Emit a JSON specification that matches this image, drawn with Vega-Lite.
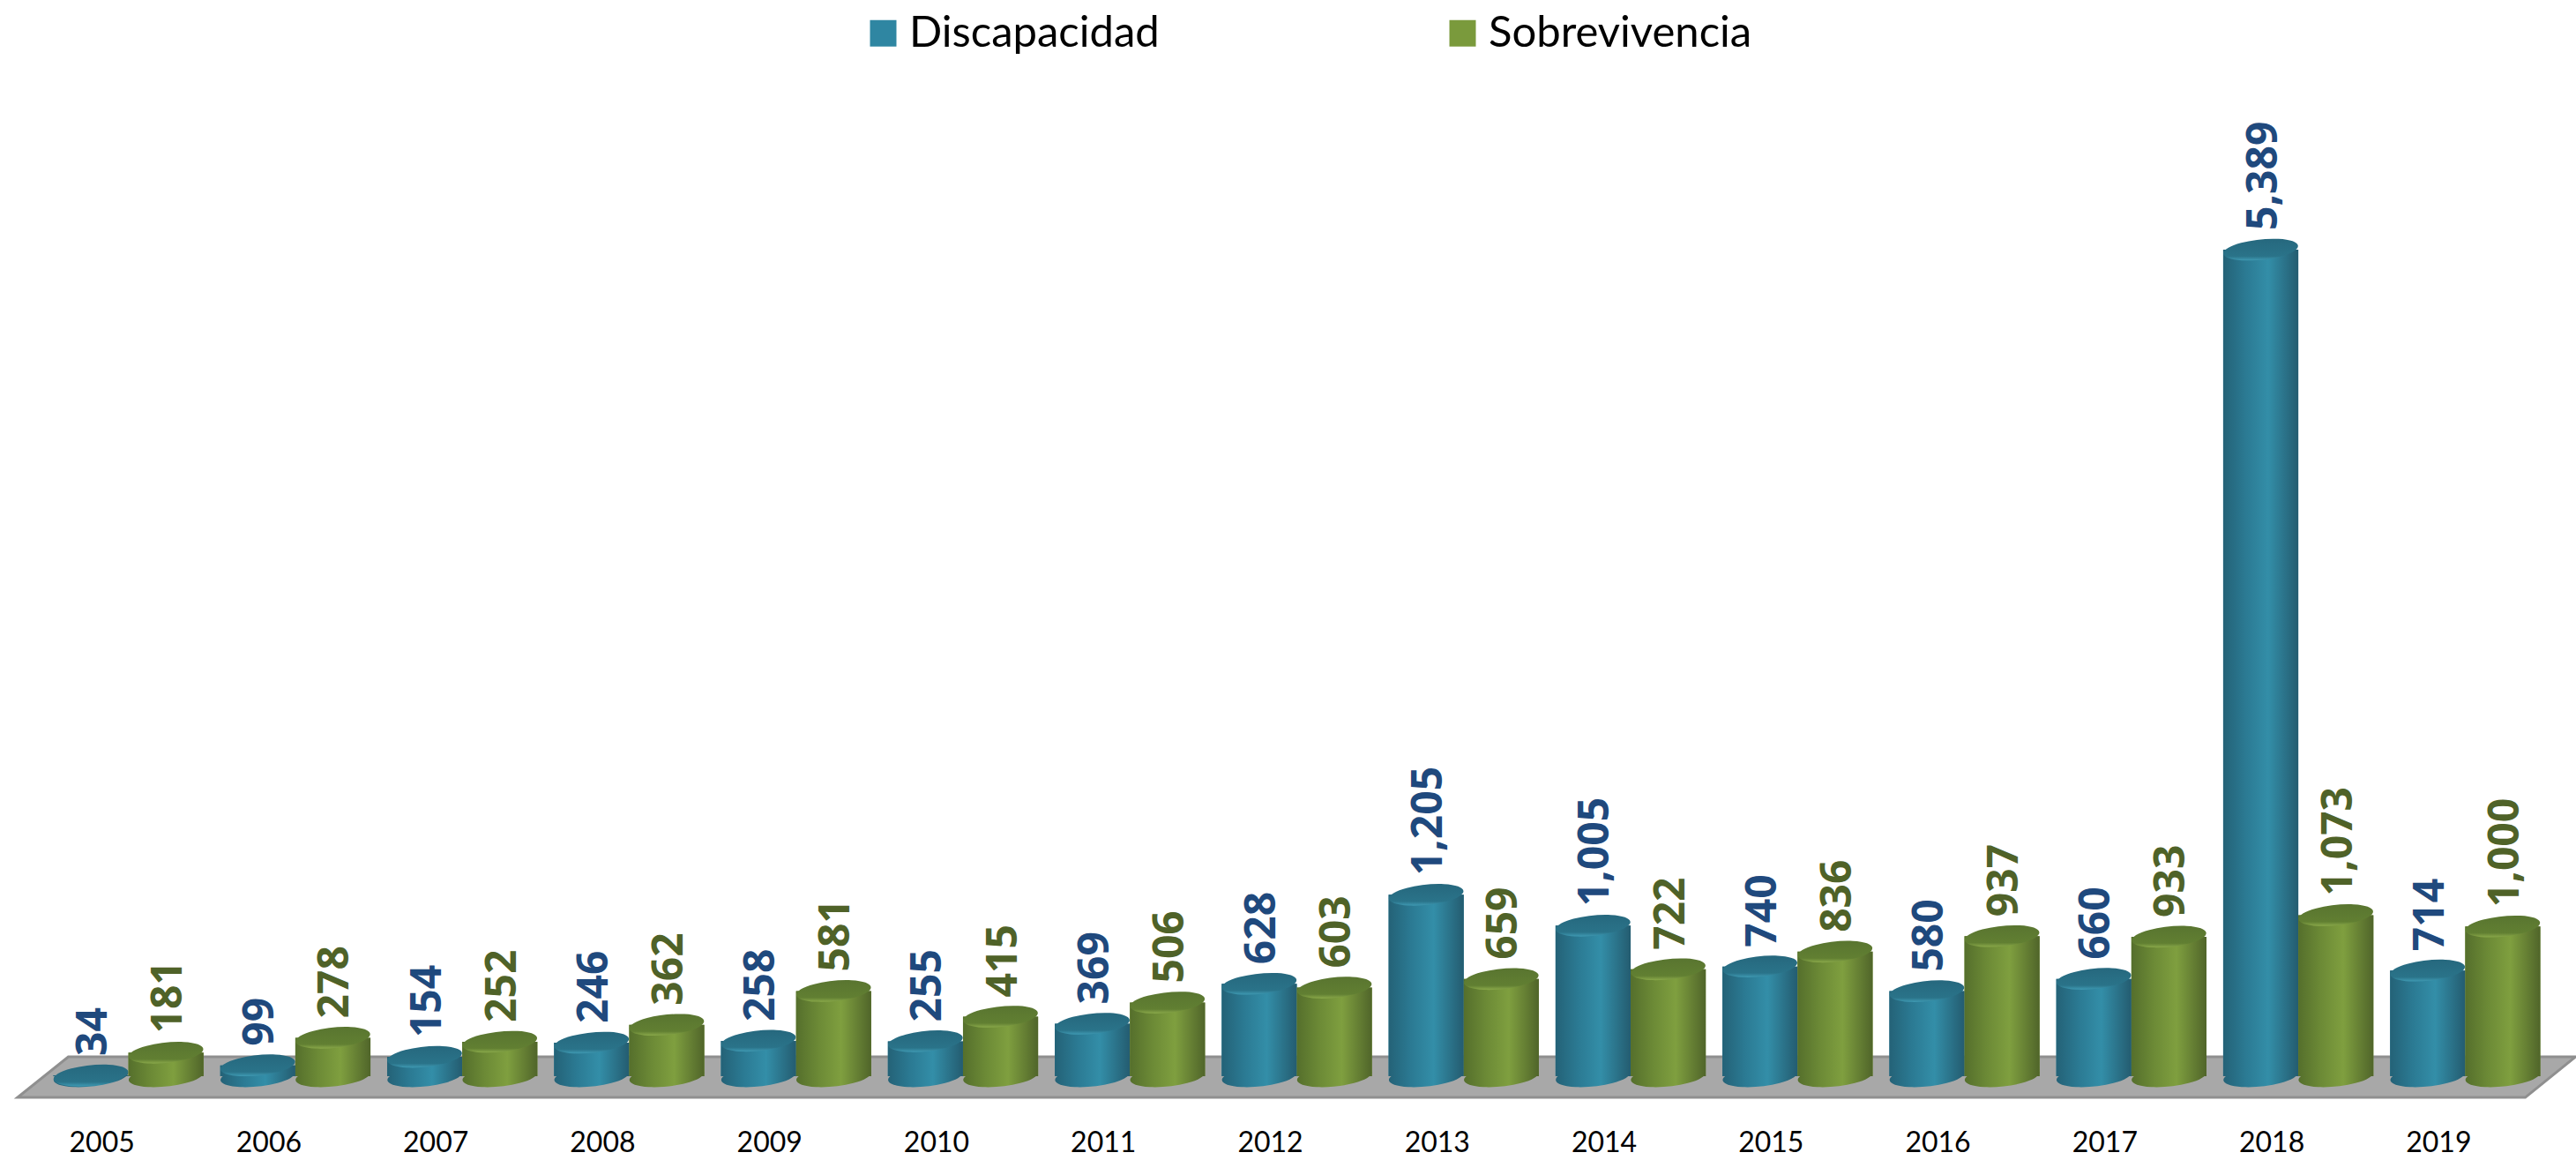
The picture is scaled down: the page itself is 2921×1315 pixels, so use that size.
{
"$schema":"https://vega.github.io/schema/vega-lite/v6.json",
"width":2839,"height":1165,
"autosize":"none",
"padding":{"left":51,"top":60,"right":31,"bottom":90},
"background":"white",
"config":{"view":{"stroke":null}},
"datasets":{
"floor":[
{"pos":2004.336,"low":-109,"high":-109},
{"pos":2004.64,"low":-109,"high":154},
{"pos":2019.36,"low":-109,"high":154},
{"pos":2019.66,"low":154,"high":154}
],
"bars":[
{"year":"2005","serie":"Discapacidad","value":34},{"year":"2005","serie":"Sobrevivencia","value":181},
{"year":"2006","serie":"Discapacidad","value":99},{"year":"2006","serie":"Sobrevivencia","value":278},
{"year":"2007","serie":"Discapacidad","value":154},{"year":"2007","serie":"Sobrevivencia","value":252},
{"year":"2008","serie":"Discapacidad","value":246},{"year":"2008","serie":"Sobrevivencia","value":362},
{"year":"2009","serie":"Discapacidad","value":258},{"year":"2009","serie":"Sobrevivencia","value":581},
{"year":"2010","serie":"Discapacidad","value":255},{"year":"2010","serie":"Sobrevivencia","value":415},
{"year":"2011","serie":"Discapacidad","value":369},{"year":"2011","serie":"Sobrevivencia","value":506},
{"year":"2012","serie":"Discapacidad","value":628},{"year":"2012","serie":"Sobrevivencia","value":603},
{"year":"2013","serie":"Discapacidad","value":1205},{"year":"2013","serie":"Sobrevivencia","value":659},
{"year":"2014","serie":"Discapacidad","value":1005},{"year":"2014","serie":"Sobrevivencia","value":722},
{"year":"2015","serie":"Discapacidad","value":740},{"year":"2015","serie":"Sobrevivencia","value":836},
{"year":"2016","serie":"Discapacidad","value":580},{"year":"2016","serie":"Sobrevivencia","value":937},
{"year":"2017","serie":"Discapacidad","value":660},{"year":"2017","serie":"Sobrevivencia","value":933},
{"year":"2018","serie":"Discapacidad","value":5389},{"year":"2018","serie":"Sobrevivencia","value":1073},
{"year":"2019","serie":"Discapacidad","value":714},{"year":"2019","serie":"Sobrevivencia","value":1000}
]},
"resolve":{"scale":{"x":"independent"},"axis":{"x":"independent"}},
"layer":[
{"data":{"name":"floor"},
 "mark":{"type":"area","fill":"#a8a8a8","stroke":"#8f8f8f","strokeWidth":3,"clip":false,"orient":"vertical"},
 "encoding":{
  "x":{"field":"pos","type":"quantitative","axis":null,"scale":{"domain":[2004.5,2019.5],"nice":false,"zero":false}},
  "y":{"field":"low","type":"quantitative","axis":null,"scale":{"domain":[0,6665],"nice":false}},
  "y2":{"field":"high"}
 }},
{"data":{"name":"bars"},
 "encoding":{
  "x":{"field":"year","type":"nominal","title":null,"scale":{"paddingInner":0.1,"paddingOuter":0.05},
    "axis":{"labelAngle":0,"labelFont":"Lato","labelFontSize":32,"labelColor":"#000000","labelOffset":-30,"labelPadding":55,"labelBaseline":"top","ticks":false,"domain":false,"grid":false}},
  "xOffset":{"field":"serie","type":"nominal","scale":{"domain":["Discapacidad","Sobrevivencia"]}},
  "y":{"field":"value","type":"quantitative","axis":null,"scale":{"domain":[0,6665],"nice":false}}
 },
 "layer":[
 {"mark":{"type":"bar","clip":false},
  "encoding":{"y2":{"datum":28},"color":{"field":"serie","type":"nominal",
    "scale":{"domain":["Discapacidad","Sobrevivencia"],"range":["#2f86a2","#7a9a3c"]},
    "legend":{"title":null,"orient":"none","legendX":926,"legendY":-47,"direction":"horizontal","columns":2,"symbolType":"square","symbolSize":900,"symbolStrokeWidth":0,"labelFont":"Lato","labelFontSize":49,"labelLimit":600,"labelColor":"#000000","labelOffset":5,"columnPadding":319,"padding":0}}}},
 {"transform":[{"filter":"datum.serie==='Discapacidad'"}],
  "mark":{"type":"point","filled":true,"opacity":1,"strokeWidth":0,"size":7225,"clip":false,
    "shape":"M -0.9945,0.1045 A 1 0.27 -6 1 1 0.9945,-0.1045 A 1 0.27 -6 1 1 -0.9945,0.1045 Z",
    "fill":{"gradient":"linear","x1":0,"y1":0,"x2":1,"y2":0,"stops":[{"offset":0,"color":"#246277"},{"offset":0.3,"color":"#2b7a93"},{"offset":0.6,"color":"#338ea8"},{"offset":1,"color":"#245c70"}]}},
  "encoding":{"y":{"datum":28}}},
 {"transform":[{"filter":"datum.serie==='Discapacidad'"}],
  "mark":{"type":"bar","clip":false,
    "fill":{"gradient":"linear","x1":0,"y1":0,"x2":1,"y2":0,"stops":[{"offset":0,"color":"#246277"},{"offset":0.3,"color":"#2b7a93"},{"offset":0.6,"color":"#338ea8"},{"offset":1,"color":"#245c70"}]}},
  "encoding":{"y2":{"datum":28}}},
 {"transform":[{"filter":"datum.serie==='Discapacidad'"}],
  "mark":{"type":"point","filled":true,"opacity":1,"strokeWidth":0,"size":7225,"clip":false,
    "shape":"M -0.9945,0.1045 A 1 0.27 -6 1 1 0.9945,-0.1045 A 1 0.27 -6 1 1 -0.9945,0.1045 Z",
    "fill":{"gradient":"linear","x1":0,"y1":0,"x2":0,"y2":1,"stops":[{"offset":0,"color":"#26687e"},{"offset":0.8,"color":"#2a7389"},{"offset":1,"color":"#3f9ab3"}]}}},
 {"transform":[{"filter":"datum.serie==='Sobrevivencia'"}],
  "mark":{"type":"point","filled":true,"opacity":1,"strokeWidth":0,"size":7225,"clip":false,
    "shape":"M -0.9945,0.1045 A 1 0.27 -6 1 1 0.9945,-0.1045 A 1 0.27 -6 1 1 -0.9945,0.1045 Z",
    "fill":{"gradient":"linear","x1":0,"y1":0,"x2":1,"y2":0,"stops":[{"offset":0,"color":"#556f2c"},{"offset":0.3,"color":"#6c8a36"},{"offset":0.6,"color":"#7f9f3f"},{"offset":1,"color":"#50652a"}]}},
  "encoding":{"y":{"datum":28}}},
 {"transform":[{"filter":"datum.serie==='Sobrevivencia'"}],
  "mark":{"type":"bar","clip":false,
    "fill":{"gradient":"linear","x1":0,"y1":0,"x2":1,"y2":0,"stops":[{"offset":0,"color":"#556f2c"},{"offset":0.3,"color":"#6c8a36"},{"offset":0.6,"color":"#7f9f3f"},{"offset":1,"color":"#50652a"}]}},
  "encoding":{"y2":{"datum":28}}},
 {"transform":[{"filter":"datum.serie==='Sobrevivencia'"}],
  "mark":{"type":"point","filled":true,"opacity":1,"strokeWidth":0,"size":7225,"clip":false,
    "shape":"M -0.9945,0.1045 A 1 0.27 -6 1 1 0.9945,-0.1045 A 1 0.27 -6 1 1 -0.9945,0.1045 Z",
    "fill":{"gradient":"linear","x1":0,"y1":0,"x2":0,"y2":1,"stops":[{"offset":0,"color":"#597530"},{"offset":0.8,"color":"#617f32"},{"offset":1,"color":"#8aa94a"}]}}},
 {"mark":{"type":"text","angle":270,"align":"left","baseline":"middle","dx":22,"dy":4,"font":"Open Sans","fontWeight":"bold","fontSize":48,"clip":false},
  "encoding":{"text":{"field":"value","type":"quantitative","format":","},
   "color":{"condition":{"test":"datum.serie==='Discapacidad'","value":"#1f497d"},"value":"#4f6228"}}}
 ]}
]
}
